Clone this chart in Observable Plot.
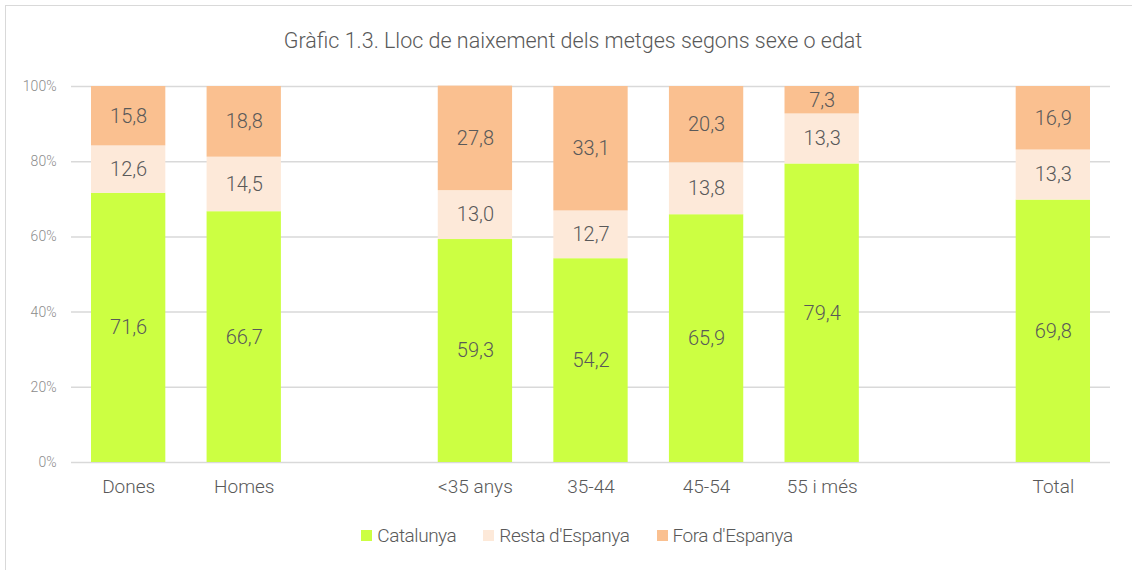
<!DOCTYPE html>
<html>
<head>
<meta charset="utf-8">
<script src="https://cdn.jsdelivr.net/npm/d3@7"></script>
<script src="https://cdn.jsdelivr.net/npm/@observablehq/plot@0.6"></script>
<style>
  html, body { margin: 0; padding: 0; background: #fff; }
  body { width: 1132px; height: 570px; overflow: hidden; position: relative;
         font-family: "Roboto", "Liberation Sans", sans-serif; font-weight: 300; }
  #frame { position: absolute; left: 5px; top: 5px; width: 1140px; height: 580px;
           border-left: 1.5px solid #d9d9d9; border-top: 1.5px solid #d9d9d9; }
  #title { position: absolute; left: 7px; top: 28px; width: 1132px; text-align: center;
           font-size: 21.5px; color: #595959; letter-spacing: 0px; }
  #chart { position: absolute; left: 0; top: 65px; }
  #legend { position: absolute; left: 11px; top: 524px; width: 1132px; display: flex;
            justify-content: center; gap: 27px; font-size: 19px; color: #595959; letter-spacing: -0.45px; }
  #legend .item { display: flex; align-items: center; gap: 5px; }
  #legend .sw { width: 11px; height: 11px; display: inline-block; }
  svg text { font-weight: 300; }
</style>
</head>
<body>
<div id="frame"></div>
<div id="title">Gràfic 1.3. Lloc de naixement dels metges segons sexe o edat</div>
<div id="chart"></div>
<div id="legend"></div>
<script>
const categories = ["Dones", "Homes", " ", "<35 anys", "35-44", "45-54", "55 i més", "  ", "Total"];
const groups = ["Dones", "Homes", "<35 anys", "35-44", "45-54", "55 i més", "Total"];
const series = ["Catalunya", "Resta d'Espanya", "Fora d'Espanya"];
const catalunya = [71.6, 66.7, 59.3, 54.2, 65.9, 79.4, 69.8];
const restaEspanya = [12.6, 14.5, 13.0, 12.7, 13.8, 13.3, 13.3];
const foraEspanya = [15.8, 18.8, 27.8, 33.1, 20.3, 7.3, 16.9];
const colors = ["#ccff42", "#fde9d9", "#fac090"];
const yTicks = [0, 20, 40, 60, 80, 100];

const valuesBySeries = [catalunya, restaEspanya, foraEspanya];
const data = [];
series.forEach((s, si) => {
  groups.forEach((g, gi) => {
    data.push({group: g, series: s, value: valuesBySeries[si][gi]});
  });
});

const fmt = v => v.toFixed(1).replace(".", ",");

const chart = Plot.plot({
  width: 1132,
  height: 432,
  marginLeft: 71,
  marginRight: 22,
  marginTop: 21,
  marginBottom: 35,
  style: {fontFamily: '"Roboto", "Liberation Sans", sans-serif', background: "transparent"},
  x: {domain: categories, paddingInner: 0.357, paddingOuter: 0.173, round: false, label: null},
  y: {domain: [0, 100], label: null},
  color: {domain: series, range: colors},
  marks: [
    Plot.gridY(yTicks, {stroke: "#d9d9d9", strokeOpacity: 1, strokeWidth: 1.5}),
    Plot.axisY({ticks: yTicks, tickFormat: d => d + "%", tickSize: 0, tickPadding: 15,
                fontSize: 14, color: "#8c8c8c", label: null}),
    Plot.axisX({tickFormat: d => d.trim(), tickSize: 0, tickPadding: 17, fontSize: 19,
                color: "#595959", label: null}),
    Plot.barY(data, Plot.stackY({x: "group", y: "value", fill: "series", order: series})),
    Plot.text(data, Plot.stackY({x: "group", y: "value", z: "series", order: series,
                text: d => fmt(d.value), fill: "#595959", fontSize: 20})),
  ]
});
document.getElementById("chart").appendChild(chart);

const legend = document.getElementById("legend");
series.forEach((s, i) => {
  const item = document.createElement("span");
  item.className = "item";
  const sw = document.createElement("span");
  sw.className = "sw";
  sw.style.background = colors[i];
  const t = document.createElement("span");
  t.textContent = s;
  item.appendChild(sw);
  item.appendChild(t);
  legend.appendChild(item);
});
</script>
</body>
</html>
